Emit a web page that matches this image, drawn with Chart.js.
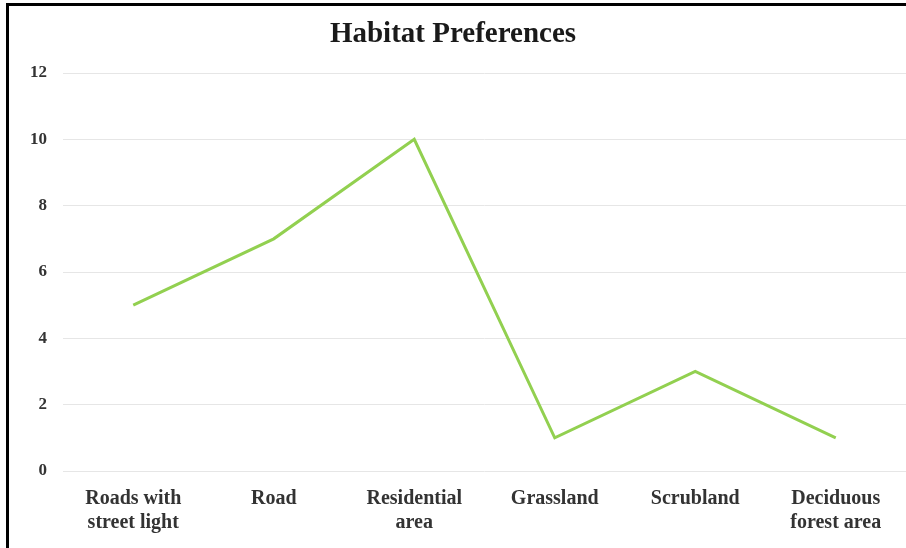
<!DOCTYPE html>
<html>
<head>
<meta charset="utf-8">
<script src="https://cdn.jsdelivr.net/npm/chart.js@4"></script>
<style>
  html, body { margin: 0; padding: 0; background: #fff; }
  #wrap { position: relative; width: 906px; height: 548px; }
  #frame { position: absolute; left: 6px; top: 3px; width: 900px; height: 545px;
           border-top: 3px solid #000; border-left: 3px solid #000; box-sizing: border-box; pointer-events: none; }
</style>
</head>
<body>
<div id="wrap">
  <canvas id="c" width="906" height="548"></canvas>
  <div id="frame"></div>
</div>
<script>
const categories = [
  ["Roads with", "street light"],
  "Road",
  ["Residential", "area"],
  "Grassland",
  "Scrubland",
  ["Deciduous", "forest area"]
];
const habitatCounts = [5, 7, 10, 1, 3, 1];
const yTicks = { min: 0, max: 12, step: 2 };
const chartTitle = "Habitat Preferences";

new Chart(document.getElementById('c'), {
  type: 'line',
  data: {
    labels: categories,
    datasets: [{
      data: habitatCounts,
      borderColor: '#92d050',
      borderWidth: 3,
      pointRadius: 0,
      tension: 0,
      fill: false
    }]
  },
  options: {
    responsive: false,
    animation: false,
    layout: { padding: { top: 0, left: 0, right: 0, bottom: 0 } },
    plugins: {
      legend: { display: false },
      tooltip: { enabled: false },
      title: {
        display: true,
        text: chartTitle,
        color: '#1a1a1a',
        font: { family: 'Liberation Serif', size: 29, weight: 'bold', lineHeight: 1.2 },
        padding: { top: 17, bottom: 21.2 }
      }
    },
    scales: {
      x: {
        offset: true,
        grid: { display: false, drawTicks: false },
        border: { display: false },
        afterFit: (s) => { s.height = 77; },
        ticks: {
          color: '#333',
          padding: 16,
          maxRotation: 0,
          autoSkip: false,
          font: { family: 'Liberation Serif', size: 20, weight: 'bold', lineHeight: 1.2 }
        }
      },
      y: {
        min: yTicks.min,
        max: yTicks.max,
        grid: { color: '#e6e6e6', lineWidth: 1, drawTicks: false },
        border: { display: false },
        afterFit: (s) => { s.width = 63; },
        ticks: {
          stepSize: yTicks.step,
          color: '#333',
          padding: 16,
          font: { family: 'Liberation Serif', size: 17, weight: 'bold', lineHeight: 1.2 }
        }
      }
    }
  }
});
</script>
</body>
</html>
